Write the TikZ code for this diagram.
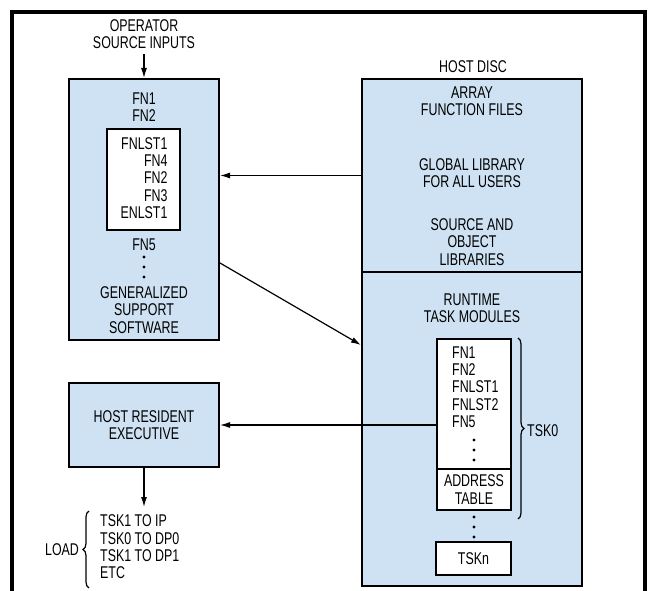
\documentclass[tikz,border=0pt]{standalone}
\usepackage{fontspec}
\setmainfont{Liberation Sans}[FakeStretch=0.73]
\usetikzlibrary{arrows.meta, decorations.pathreplacing}
\definecolor{discblue}{RGB}{206,226,243}

\begin{document}
\begin{tikzpicture}[x=1pt, y=1pt, font=\fontsize{17}{17.3}\selectfont, panel/.style={draw, line width=2pt, fill=discblue, inner sep=0pt, align=center}, inbox/.style={draw, line width=2pt, fill=white, inner sep=0pt, align=center}, txt/.style={align=center, inner sep=0pt}, arr/.style={line width=1.2pt, -{Latex[length=10pt, width=6pt]}}, brc/.style={line width=1.2pt, decorate, decoration={brace, amplitude=6pt}}]
\useasboundingbox (0,-591) rectangle (649,0);
\clip (0,-591) rectangle (649,0);
\draw[line width=4pt] (12,-600) -- (12,-12) -- (645,-12) -- (645,-600);
\node[txt] (src) at (144,-34) {OPERATOR\\SOURCE INPUTS};
\node[panel, minimum width=150pt, minimum height=261pt] (gss) at (144,-209.5) {};
\node[txt] (fnhead) at (144,-107) {FN1\\FN2};
\node[inbox, minimum width=73pt, minimum height=101pt] (lst) at (143.5,-179.5) {};
\node[align=right, inner sep=0pt] (lsttxt) at (144,-178) {FNLST1\\FN4\\FN2\\FN3\\ENLST1};
\node[txt] (fnfive) at (144,-245) {FN5};
\foreach \y in {-257,-267,-277} \fill (144,\y) circle (1.7pt);
\node[txt] (gsstxt) at (144,-310) {GENERALIZED\\SUPPORT\\SOFTWARE};
\node[txt] (disclbl) at (473,-67) {HOST DISC};
\node[panel, minimum width=220pt, minimum height=193pt] (disc) at (472,-175.5) {};
\node[txt] (arrfiles) at (472,-101) {ARRAY\\FUNCTION FILES};
\node[txt] (globlib) at (472,-173) {GLOBAL LIBRARY\\FOR ALL USERS};
\node[txt] (srclib) at (472,-242) {SOURCE AND\\OBJECT\\LIBRARIES};
\node[panel, minimum width=220pt, minimum height=314pt] (rt) at (472,-429) {};
\node[txt] (rttxt) at (472,-308.5) {RUNTIME\\TASK MODULES};
\node[inbox, minimum width=74pt, minimum height=130pt] (tsk) at (474,-404) {};
\node[align=left, inner sep=0pt, anchor=west] (tsktxt) at (452,-387) {FN1\\FN2\\FNLST1\\FNLST2\\FN5};
\foreach \y in {-440,-450,-460} \fill (474,\y) circle (1.7pt);
\node[inbox, minimum width=74pt, minimum height=41pt] (addr) at (474,-489.5) {ADDRESS\\TABLE};
\foreach \y in {-517,-527,-537} \fill (474,\y) circle (1.7pt);
\node[inbox, minimum width=75pt, minimum height=33pt] (tskn) at (473.5,-558.5) {TSKn};
\draw[brc] ([xshift=6pt]tsk.north east) -- ([xshift=6pt, yshift=-8pt]addr.south east);
\node[txt, anchor=west] (tskzero) at (527,-431) {TSK0};
\node[panel, minimum width=150pt, minimum height=84pt] (hre) at (144,-425) {HOST RESIDENT\\EXECUTIVE};
\coordinate (ldtop) at (144,-507);
\node[align=left, inner sep=0pt, anchor=west] (ldlist) at (100,-547) {TSK1 TO IP\\TSK0 TO DP0\\TSK1 TO DP1\\ETC};
\draw[brc] (89,-588) -- (89,-511);
\node[txt] (ld) at (62,-550) {LOAD};
\draw[arr, shorten <=5pt] (src.south) -- (gss.north);
\draw[arr] (disc.west) -- (disc.west -| gss.east);
\draw[arr] ([yshift=-53.5pt]gss.east) -- ([yshift=84pt]rt.west);
\draw[arr] (tsk.west |- hre.east) -- (hre.east);
\draw[arr] (hre.south) -- (ldtop);
\end{tikzpicture}
\end{document}
